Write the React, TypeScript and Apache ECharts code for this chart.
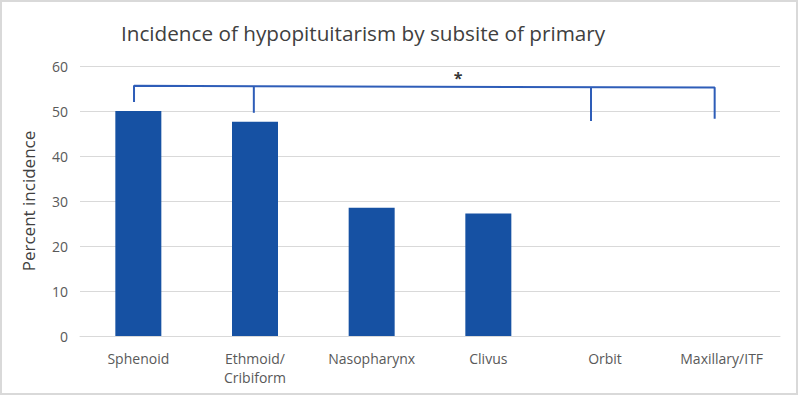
import React, { useEffect, useRef } from "react";
import * as echarts from "echarts";

const categories = ["Sphenoid", "Ethmoid/\nCribiform", "Nasopharynx", "Clivus", "Orbit", "Maxillary/ITF"];
const values = [50, 47.6, 28.5, 27.2, 0, 0];
const yTicks = { min: 0, max: 60, interval: 10 };
// bracket annotation points in [slot position (0..6), percent]
const bracketMain: [number, number][] = [[0.463, 52], [0.463, 55.6], [5.44, 55.2], [5.44, 48.3]];
const bracketLeg1: [number, number][] = [[1.49, 55.5], [1.49, 49.6]];
const bracketLeg2: [number, number][] = [[4.38, 55.3], [4.38, 47.8]];
const starPoint: [number, number][] = [[3.24, 57.3]];

const BLUE = "#1651A3";
const FONT = "'Open Sans', 'Noto Sans', sans-serif";

export default function App() {
  const ref = useRef<HTMLDivElement>(null);
  useEffect(() => {
    document.body.style.margin = "0";
    const chart = echarts.init(ref.current!, null, { renderer: "svg" });
    const lineSeries = (data: [number, number][]) => ({
      type: "line",
      xAxisIndex: 1,
      data,
      symbol: "none",
      lineStyle: { color: "#2E5DB8", width: 2 },
      silent: true,
      z: 5,
    });
    chart.setOption({
      animation: false,
      graphic: [
        {
          type: "rect",
          shape: { x: 1, y: 1, width: 796, height: 393 },
          style: { fill: "none", stroke: "#d9d9d9", lineWidth: 2 },
          silent: true,
        },
      ],
      title: {
        text: "Incidence of hypopituitarism by subsite of primary",
        left: 116,
        top: 17,
        textStyle: { fontFamily: FONT, fontSize: 20.7, fontWeight: "normal", color: "#404040" },
      },
      grid: { left: 80, right: 20, top: 66, bottom: 61 },
      xAxis: [
        {
          type: "category",
          data: categories,
          axisLine: { lineStyle: { color: "#d9d9d9", width: 1 } },
          axisTick: { show: false },
          axisLabel: { color: "#595959", fontFamily: FONT, fontSize: 14, margin: 13, lineHeight: 19, interval: 0 },
        },
        { type: "value", min: 0, max: 6, show: false },
      ],
      yAxis: {
        type: "value",
        min: yTicks.min,
        max: yTicks.max,
        interval: yTicks.interval,
        name: "Percent incidence",
        nameLocation: "middle",
        nameGap: 43,
        nameTextStyle: { color: "#404040", fontFamily: FONT, fontSize: 17 },
        axisLine: { show: false },
        axisTick: { show: false },
        axisLabel: { color: "#595959", fontFamily: FONT, fontSize: 14, margin: 12 },
        splitLine: { lineStyle: { color: "#d9d9d9", width: 1 } },
      },
      series: [
        {
          type: "bar",
          data: values,
          barWidth: 46,
          itemStyle: { color: BLUE },
        },
        lineSeries(bracketMain),
        lineSeries(bracketLeg1),
        lineSeries(bracketLeg2),
        {
          type: "scatter",
          xAxisIndex: 1,
          data: starPoint,
          symbolSize: 0,
          label: {
            show: true,
            position: "inside",
            formatter: "*",
            color: "#000",
            fontSize: 16,
            fontWeight: "bold",
            fontFamily: FONT,
          },
        },
      ],
    });
    return () => chart.dispose();
  }, []);
  return <div ref={ref} style={{ width: 800, height: 397 }} />;
}
